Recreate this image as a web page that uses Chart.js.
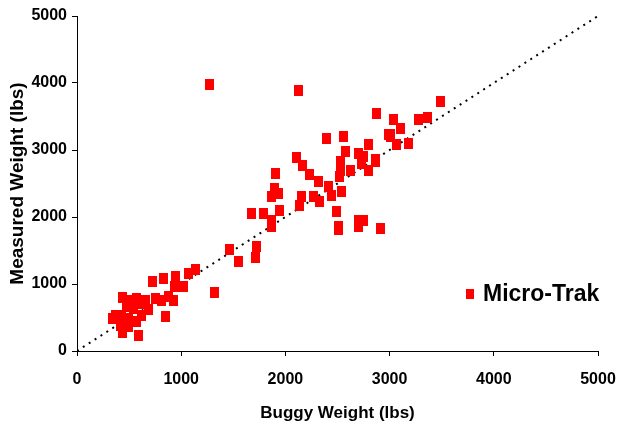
<!DOCTYPE html>
<html>
<head>
<meta charset="utf-8">
<script src="https://cdn.jsdelivr.net/npm/chart.js@4/dist/chart.umd.min.js"></script>
<style>
  html, body { margin: 0; padding: 0; background: #fff; }
  #wrap { width: 618px; height: 427px; }
</style>
</head>
<body>
<div id="wrap"><canvas id="c" width="618" height="427"></canvas></div>
<script>
// ---- Data ----
const seriesName = "Micro-Trak";
const buggyWeight = [
  339, 413, 435, 429, 492, 541, 541, 605, 653, 621, 573, 492, 684, 749, 813, 876, 924, 477, 509, 573,
  365, 461, 435, 588, 851, 723, 828, 950, 1068, 1139, 940, 1020, 1315,
  1267, 2121, 1462, 1548, 1715, 1724, 1677, 1788, 1868, 1862, 1948, 1862, 1932, 1900, 1907,
  2150, 2140, 2108, 2163, 2236, 2316, 2412, 2444, 2540, 2332, 2268,
  2396, 2556, 2572, 2700, 2796, 2748, 2860, 2796, 2732, 2524, 2524, 2517, 2620,
  2492, 2508, 2508, 2700, 2748, 2700, 2908,
  2876, 3036, 3276, 3362, 3484, 3100, 3011, 3004, 3068, 3180, 2860, 2988
];
const measuredWeight = [
  478, 388, 279, 537, 488, 637, 736, 712, 761, 537, 437, 363, 612, 787, 761, 810, 761, 661, 761, 787,
  537, 437, 796, 224, 522, 1034, 1075, 1110, 1150, 1209, 960, 960, 866,
  3985, 3881, 1522, 1333, 1398, 1557, 2054, 2054, 1855, 1955, 2104, 2303, 2354, 2428, 2642,
  2303, 2179, 2891, 2776, 2627, 2527, 2452, 2328, 2378, 2228, 2303,
  3174, 3199, 2975, 2950, 3075, 2900, 2826, 2701, 2801, 2826, 2701, 2602, 2701,
  2080, 1855, 1806, 1855, 1955, 1955, 1831,
  3547, 3448, 3448, 3482, 3721, 3324, 3224, 3199, 3075, 3099, 2851, 3224
];
const refLineX = [0, 5000];
const refLineY = [0, 5000];
const axisMin = 0, axisMax = 5000, axisStep = 1000;
const xTitle = "Buggy Weight (lbs)";
const yTitle = "Measured Weight (lbs)";

// ---- Styling ----
const FONT = "'Liberation Sans', Arial, Helvetica, sans-serif";
Chart.defaults.font.family = FONT;
Chart.defaults.color = '#000';

function makeMarker(w, h, color) {
  const cv = document.createElement('canvas');
  cv.width = w; cv.height = h;
  const g = cv.getContext('2d');
  g.fillStyle = color;
  g.fillRect(0, 0, w, h);
  return cv;
}
const marker = makeMarker(9, 11, '#ff0000');
const legendMarker = makeMarker(8, 10, '#ff0000');

const points = buggyWeight.map((x, i) => ({ x: x, y: measuredWeight[i] }));
const refLine = refLineX.map((x, i) => ({ x: x, y: refLineY[i] }));

const legendPlugin = {
  id: 'insideLegend',
  afterDraw(chart) {
    const ctx = chart.ctx;
    const ca = chart.chartArea;
    const mx = ca.right - 128, my = ca.bottom - 57;
    ctx.save();
    ctx.drawImage(legendMarker, mx - 4, my - 5);
    ctx.fillStyle = '#000';
    ctx.font = 'bold 23px ' + FONT;
    ctx.textBaseline = 'middle';
    ctx.textAlign = 'left';
    ctx.fillText(chart.data.datasets[0].label, mx + 13, my + 1);
    ctx.restore();
  }
};

function axisCommon(titleText, titleSize, titlePad) {
  return {
    type: 'linear',
    min: axisMin,
    max: axisMax,
    ticks: {
      stepSize: axisStep,
      font: { size: 16, weight: 'bold' },
      color: '#000',
      callback: v => String(v)
    },
    grid: {
      display: true,
      drawOnChartArea: false,
      drawTicks: true,
      tickLength: 5,
      color: '#000',
      lineWidth: 1
    },
    border: { display: true, color: '#000', width: 1 },
    title: {
      display: true,
      text: titleText,
      color: '#000',
      font: { size: titleSize, weight: 'bold' },
      padding: titlePad
    }
  };
}

function zeroPad(s) {
  s.paddingLeft = 0; s.paddingRight = 0; s.paddingTop = 0; s.paddingBottom = 0;
}

const xScale = axisCommon(xTitle, 17, { top: 0, bottom: 3 });
xScale.ticks.padding = 14;
xScale.ticks.maxRotation = 0;
xScale.afterFit = s => { s.height = 76; zeroPad(s); };

const yScale = axisCommon(yTitle, 19, { top: 6, bottom: 0 });
yScale.ticks.padding = 5;
yScale.afterFit = s => { s.width = 77; zeroPad(s); };

new Chart(document.getElementById('c'), {
  type: 'scatter',
  data: {
    datasets: [
      {
        label: seriesName,
        data: points,
        pointStyle: marker,
        pointRadius: 5,
        pointHoverRadius: 5,
        backgroundColor: '#ff0000',
        borderColor: '#ff0000',
        order: 1
      },
      {
        label: 'ref',
        type: 'line',
        data: refLine,
        borderColor: '#000',
        borderWidth: 2,
        borderDash: [2, 5],
        pointRadius: 0,
        fill: false,
        order: 2
      }
    ]
  },
  options: {
    responsive: false,
    animation: false,
    devicePixelRatio: 1,
    layout: { padding: { top: 16, right: 20, left: 0, bottom: 0 } },
    plugins: {
      legend: { display: false },
      tooltip: { enabled: false }
    },
    scales: { x: xScale, y: yScale }
  },
  plugins: [legendPlugin]
});
</script>
</body>
</html>
